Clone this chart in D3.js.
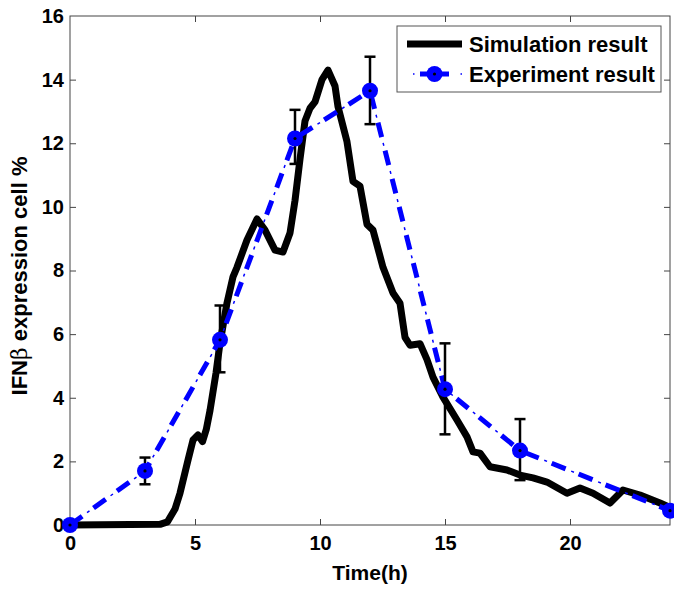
<!DOCTYPE html>
<html>
<head>
<meta charset="utf-8">
<script src="https://cdn.jsdelivr.net/npm/d3@7"></script>
<style>
  body { margin: 0; background: #fff; }
  text { font-family: "Liberation Sans", Arial, sans-serif; font-weight: bold; }
</style>
</head>
<body>
<div id="chart"></div>
<script>
// simulation curve (time in h, % cells)
var simT = [0, 3.6, 3.9, 4.2, 4.4, 4.72, 4.92, 5.12, 5.3, 5.45, 5.6, 5.84, 6.0, 6.28, 6.52, 6.68, 7.08, 7.48, 7.8, 8.2, 8.52, 8.8, 9.0, 9.2, 9.4, 9.6, 9.8, 10.08, 10.32, 10.6, 10.72, 11.08, 11.32, 11.6, 11.88, 12.12, 12.52, 12.92, 13.2, 13.4, 13.6, 14.0, 14.28, 14.52, 14.92, 15.48, 15.88, 16.12, 16.4, 16.8, 17.48, 18.0, 18.52, 19.08, 19.88, 20.4, 20.92, 21.6, 22.12, 22.8, 23.6, 24.0];
var simV = [0, 0.02, 0.1, 0.5, 1.0, 2.04, 2.67, 2.83, 2.62, 3.0, 3.6, 4.78, 5.72, 6.98, 7.8, 8.1, 8.96, 9.62, 9.27, 8.64, 8.58, 9.18, 10.2, 11.5, 12.7, 13.1, 13.3, 14.0, 14.3, 13.8, 13.15, 12.05, 10.8, 10.65, 9.45, 9.27, 8.1, 7.29, 6.97, 5.9, 5.65, 5.7, 5.2, 4.65, 4.02, 3.3, 2.77, 2.3, 2.26, 1.83, 1.73, 1.57, 1.48, 1.35, 1.0, 1.16, 1.0, 0.69, 1.1, 0.94, 0.69, 0.55];

// experiment points with error bars
var expT = [0, 3, 6, 9, 12, 15, 18, 24];
var expV = [0, 1.7, 5.82, 12.15, 13.65, 4.27, 2.34, 0.45];
var errLo = [null, 1.28, 4.8, 11.35, 12.6, 2.85, 1.41, null];
var errHi = [null, 2.12, 6.9, 13.05, 14.72, 5.71, 3.33, null];

var xTicks = [0, 5, 10, 15, 20];
var yTicks = [0, 2, 4, 6, 8, 10, 12, 14, 16];
var legendNames = ["Simulation result", "Experiment result"];

var W = 674, H = 592;
var pL = 70, pR = 670, pT = 16, pB = 525;

var svg = d3.select("#chart").append("svg")
  .attr("width", W).attr("height", H);

var x = d3.scaleLinear().domain([0, 24]).range([pL, pR]);
var y = d3.scaleLinear().domain([0, 16]).range([pB, pT]);

// == AXES (box with inward ticks) ==
var axisCol = "#444";
var xAxis = d3.axisBottom(x).tickValues(xTicks).tickSize(-6).tickPadding(11);
var yAxis = d3.axisLeft(y).tickValues(yTicks).tickSize(-6).tickPadding(6);

var gx = svg.append("g").attr("transform", "translate(0," + pB + ")").call(xAxis);
var gy = svg.append("g").attr("transform", "translate(" + pL + ",0)").call(yAxis);
var gxt = svg.append("g").attr("transform", "translate(0," + pT + ")")
  .call(d3.axisTop(x).tickValues(xTicks.slice(1)).tickSize(-6).tickFormat(""));
var gyr = svg.append("g").attr("transform", "translate(" + pR + ",0)")
  .call(d3.axisRight(y).tickValues(yTicks.slice(1, -1)).tickSize(-6).tickFormat(""));

[gx, gy, gxt, gyr].forEach(function(g) {
  g.select(".domain").remove();
  g.selectAll(".tick line").attr("stroke", axisCol);
  g.selectAll("text").attr("fill", "#000").style("font-size", "20px");
});
gx.selectAll(".tick line").filter(function(d) { return d === 0; }).remove();
gy.selectAll(".tick line").filter(function(d) { return d === 0 || d === 16; }).remove();

svg.append("rect")
  .attr("x", pL).attr("y", pT)
  .attr("width", pR - pL).attr("height", pB - pT)
  .attr("fill", "none").attr("stroke", axisCol).attr("stroke-width", 1);

// axis labels
svg.append("text")
  .attr("x", (pL + pR) / 2).attr("y", 580)
  .attr("text-anchor", "middle").style("font-size", "21px")
  .text("Time(h)");

var yl = svg.append("text")
  .attr("transform", "translate(27,276) rotate(-90)")
  .attr("text-anchor", "middle").style("font-size", "22px");
yl.append("tspan").text("IFN");
yl.append("tspan").style("font-family", "'DejaVu Serif', serif").style("font-weight", "normal").text("β");
yl.append("tspan").text(" expression cell %");

// == SIMULATION ==
var simData = simT.map(function(t, i) { return [t, simV[i]]; });
var line = d3.line().x(function(d) { return x(d[0]); }).y(function(d) { return y(d[1]); });

svg.append("path")
  .datum(simData)
  .attr("d", line)
  .attr("fill", "none")
  .attr("stroke", "#000")
  .attr("stroke-width", 7)
  .attr("stroke-linejoin", "round")
  .attr("stroke-linecap", "round");

// == EXPERIMENT ==
var expData = expT.map(function(t, i) { return { t: t, v: expV[i], lo: errLo[i], hi: errHi[i] }; });
var blue = "#0000ff";

svg.append("path")
  .datum(expData.map(function(d) { return [d.t, d.v]; }))
  .attr("d", line)
  .attr("fill", "none").attr("stroke", blue)
  .attr("stroke-width", 5)
  .attr("stroke-dasharray", "15,14");
svg.append("path")
  .datum(expData.map(function(d) { return [d.t, d.v]; }))
  .attr("d", line)
  .attr("fill", "none").attr("stroke", blue)
  .attr("stroke-width", 1.5)
  .attr("stroke-dasharray", "0,21,3,5");

var eb = svg.selectAll(".eb")
  .data(expData.filter(function(d) { return d.lo !== null; }))
  .enter().append("g").attr("class", "eb")
  .attr("stroke", "#000").attr("stroke-width", 2.5);
eb.append("line")
  .attr("x1", function(d) { return x(d.t); }).attr("x2", function(d) { return x(d.t); })
  .attr("y1", function(d) { return y(d.lo); }).attr("y2", function(d) { return y(d.hi); });
eb.append("line")
  .attr("x1", function(d) { return x(d.t) - 5.5; }).attr("x2", function(d) { return x(d.t) + 5.5; })
  .attr("y1", function(d) { return y(d.lo); }).attr("y2", function(d) { return y(d.lo); });
eb.append("line")
  .attr("x1", function(d) { return x(d.t) - 5.5; }).attr("x2", function(d) { return x(d.t) + 5.5; })
  .attr("y1", function(d) { return y(d.hi); }).attr("y2", function(d) { return y(d.hi); });

svg.selectAll(".mk")
  .data(expData).enter().append("circle")
  .attr("cx", function(d) { return x(d.t); })
  .attr("cy", function(d) { return y(d.v); })
  .attr("r", 8).attr("fill", blue);
svg.selectAll(".mkd")
  .data(expData).enter().append("circle")
  .attr("cx", function(d) { return x(d.t); })
  .attr("cy", function(d) { return y(d.v); })
  .attr("r", 1.6).attr("fill", "#000");

// == LEGEND ==
var lg = svg.append("g");
lg.append("rect")
  .attr("x", 397).attr("y", 26).attr("width", 264).attr("height", 66)
  .attr("fill", "#fff").attr("stroke", "#555").attr("stroke-width", 1);
lg.append("line")
  .attr("x1", 407).attr("x2", 462).attr("y1", 44).attr("y2", 44)
  .attr("stroke", "#000").attr("stroke-width", 7);
lg.append("line")
  .attr("x1", 407).attr("x2", 462).attr("y1", 74).attr("y2", 74)
  .attr("stroke", blue).attr("stroke-width", 5).attr("stroke-dasharray", "0,13,29,13");
lg.append("line")
  .attr("x1", 407).attr("x2", 462).attr("y1", 74).attr("y2", 74)
  .attr("stroke", blue).attr("stroke-width", 1.5).attr("stroke-dasharray", "0,6,1.5,46,1.5");
lg.append("circle").attr("cx", 434.5).attr("cy", 74).attr("r", 8).attr("fill", blue);
lg.append("circle").attr("cx", 434.5).attr("cy", 74).attr("r", 1.6).attr("fill", "#000");
lg.selectAll(".lt")
  .data(legendNames).enter().append("text")
  .attr("x", 469)
  .attr("y", function(d, i) { return 52 + i * 30; })
  .style("font-size", "22px")
  .text(function(d) { return d; });
</script>
</body>
</html>
